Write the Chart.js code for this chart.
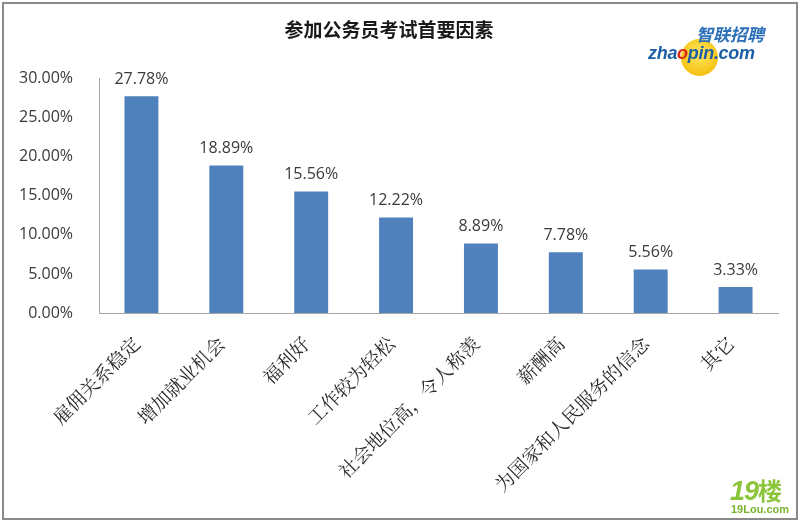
<!DOCTYPE html>
<html>
<head>
<meta charset="utf-8">
<script src="https://cdn.jsdelivr.net/npm/chart.js@4.4.0/dist/chart.umd.min.js"></script>
<style>
  html, body { margin: 0; padding: 0; background: #fff; }
  #wrap { position: relative; width: 800px; height: 522px; overflow: hidden; }
  #c { position: absolute; left: 0; top: 0; }
  .logo1 { position: absolute; left: 640px; top: 20px; width: 140px; height: 60px; }
  .logo1 .ball { position: absolute; left: 41px; top: 19px; width: 37px; height: 37px; border-radius: 50%;
    background: radial-gradient(circle at 50% 40%, #ffe866 0%, #f7c81e 60%, #f0b400 100%); }
  .logo1 .cn { position: absolute; left: 56px; top: 4px; font: italic bold 17px "Noto Sans CJK SC", sans-serif; color: #2a6fb8; line-height: 20px; white-space: nowrap; }
  .logo1 .en { position: absolute; left: 8px; top: 22px; font: italic bold 18px "Liberation Sans", Arial, sans-serif; color: #1d5fa6; letter-spacing: -0.3px; line-height: 22px; white-space: nowrap; }
  .logo1 .en .o { color: #d8261a; }
  .logo2 { position: absolute; left: 728px; top: 472px; width: 70px; height: 46px; }
  .logo2 .big { position: absolute; left: 2px; top: 0px; font: italic bold 27px "Liberation Sans", Arial, sans-serif; color: #8cc43c; line-height: 30px; letter-spacing: -1px; white-space: nowrap; }
  .logo2 .big .lou { font: bold 24px "Noto Sans CJK SC", sans-serif; font-style: normal; letter-spacing: 0; }
  .logo2 .small { position: absolute; left: 3px; top: 31px; font: bold 11px "Liberation Sans", Arial, sans-serif; color: #7bb32e; line-height: 13px; white-space: nowrap; }
</style>
</head>
<body>
<div id="wrap">
  <canvas id="c" width="800" height="522"></canvas>
  <div class="logo1">
    <div class="ball"></div>
    <div class="cn">智联招聘</div>
    <div class="en">zha<span class="o">o</span>pin.com</div>
  </div>
  <div class="logo2">
    <div class="big">19<span class="lou">楼</span></div>
    <div class="small">19Lou.com</div>
  </div>
</div>
<script>
// ---- data ----
const chartTitle = "参加公务员考试首要因素";
const categories = ["雇佣关系稳定", "增加就业机会", "福利好", "工作较为轻松", "社会地位高，令人称羡", "薪酬高", "为国家和人民服务的信念", "其它"];
const values = [27.78, 18.89, 15.56, 12.22, 8.89, 7.78, 5.56, 3.33];
const yTicks = [0, 5, 10, 15, 20, 25, 30];

const frame = {
  id: 'frame',
  beforeDraw(chart) {
    const ctx = chart.ctx;
    ctx.save();
    ctx.fillStyle = '#ffffff';
    ctx.fillRect(0, 0, chart.width, chart.height);
    ctx.strokeStyle = '#8a8a8a';
    ctx.lineWidth = 2;
    ctx.strokeRect(3, 3, chart.width - 6, chart.height - 6);
    ctx.restore();
  }
};

const valueLabels = {
  id: 'valueLabels',
  afterDatasetsDraw(chart) {
    const ctx = chart.ctx;
    const meta = chart.getDatasetMeta(0);
    ctx.save();
    ctx.font = '16px "Open Sans", sans-serif';
    ctx.fillStyle = '#3a3a3a';
    ctx.textAlign = 'center';
    ctx.textBaseline = 'middle';
    meta.data.forEach((bar, i) => {
      ctx.fillText(values[i].toFixed(2) + '%', bar.x, bar.y - 17);
    });
    ctx.restore();
  }
};

new Chart(document.getElementById('c'), {
  type: 'bar',
  data: {
    labels: categories,
    datasets: [{
      data: values,
      backgroundColor: '#4f81bd',
      borderWidth: 0,
      categoryPercentage: 1.0,
      barPercentage: 0.4
    }]
  },
  options: {
    responsive: false,
    animation: false,
    devicePixelRatio: 1,
    layout: { padding: { left: 0, right: 22, top: 0, bottom: 0 } },
    plugins: {
      legend: { display: false },
      tooltip: { enabled: false },
      title: {
        display: true,
        text: chartTitle,
        color: '#1a1a1a',
        font: { family: '"Noto Sans CJK SC", sans-serif', size: 19, weight: 'bold', lineHeight: 1.2 },
        padding: { top: 18, bottom: 38 }
      }
    },
    scales: {
      x: {
        grid: { display: false },
        border: { display: true, color: '#a6a6a6', width: 1 },
        ticks: {
          autoSkip: false,
          maxRotation: 45,
          minRotation: 45,
          padding: 11,
          labelOffset: -5,
          color: '#2a2a2a',
          font: { family: '"Noto Serif CJK SC", "Noto Sans CJK SC", serif', size: 19 }
        },
        afterFit(scale) { scale.height = 209; }
      },
      y: {
        min: 0,
        max: 30,
        grid: { display: false },
        border: { display: true, color: '#a6a6a6', width: 1 },
        afterBuildTicks(scale) { scale.ticks = yTicks.map(v => ({ value: v })); },
        ticks: {
          padding: 18,
          color: '#3a3a3a',
          font: { family: '"Open Sans", sans-serif', size: 16 },
          callback: (v) => Number(v).toFixed(2) + '%'
        },
        afterFit(scale) { scale.width = 99; }
      }
    }
  },
  plugins: [frame, valueLabels]
});
</script>
</body>
</html>
